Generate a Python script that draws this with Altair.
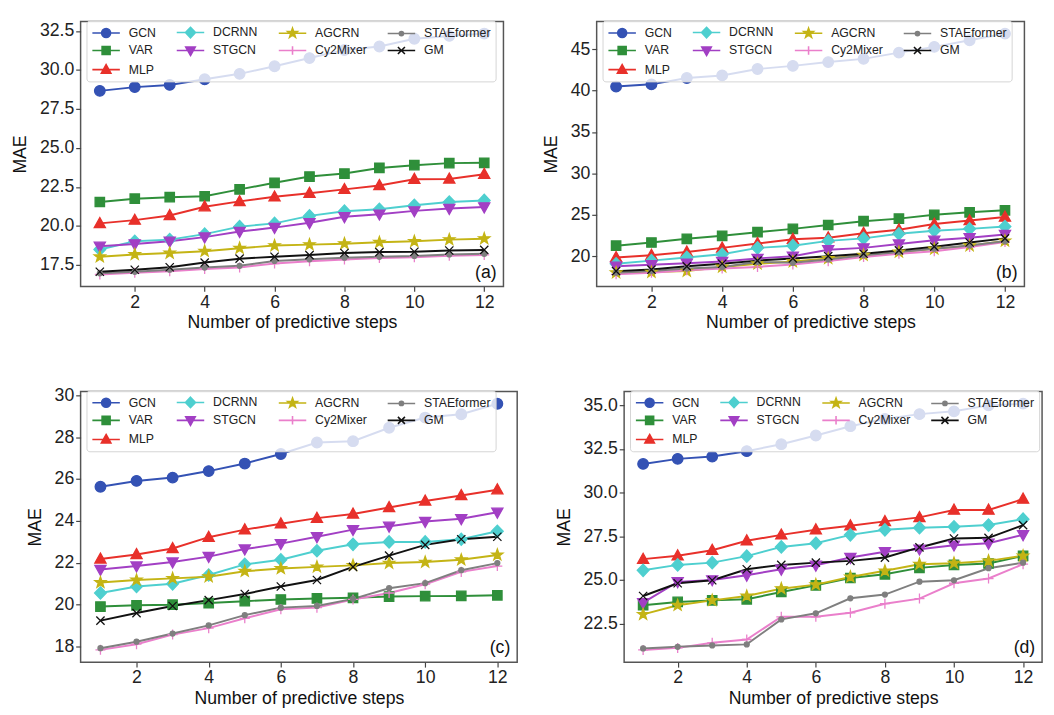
import altair as alt
import pandas as pd

steps = list(range(1, 13))
models = ["GCN", "VAR", "MLP", "DCRNN", "STGCN", "AGCRN", "Cy2Mixer", "STAEformer", "GM"]
# legend order, row-major over 4 columns
legend_order = ["GCN", "DCRNN", "AGCRN", "STAEformer", "VAR", "STGCN", "Cy2Mixer", "GM", "MLP"]

mae_a = {
    "GCN":        [28.66, 28.90, 29.04, 29.40, 29.75, 30.24, 30.76, 31.28, 31.50, 32.00, 32.18, 32.33],
    "VAR":        [21.54, 21.75, 21.85, 21.91, 22.35, 22.77, 23.17, 23.36, 23.72, 23.90, 24.03, 24.05],
    "MLP":        [20.17, 20.38, 20.68, 21.24, 21.58, 21.87, 22.10, 22.35, 22.60, 23.00, 23.02, 23.32],
    "DCRNN":      [18.50, 19.02, 19.13, 19.48, 19.96, 20.17, 20.65, 20.95, 21.07, 21.33, 21.54, 21.64],
    "STGCN":      [18.70, 18.85, 19.02, 19.29, 19.65, 19.90, 20.21, 20.59, 20.76, 20.97, 21.12, 21.22],
    "AGCRN":      [18.03, 18.18, 18.27, 18.39, 18.58, 18.75, 18.81, 18.87, 18.96, 19.02, 19.13, 19.19],
    "Cy2Mixer":   [16.90, 17.00, 17.10, 17.25, 17.35, 17.60, 17.75, 17.85, 17.95, 18.00, 18.10, 18.15],
    "STAEformer": [16.97, 17.07, 17.20, 17.34, 17.45, 17.76, 17.87, 17.97, 18.03, 18.08, 18.18, 18.22],
    "GM":         [17.07, 17.20, 17.36, 17.66, 17.91, 18.03, 18.14, 18.27, 18.33, 18.35, 18.43, 18.47],
}
mae_b = {
    "GCN":        [40.50, 40.77, 41.54, 41.85, 42.62, 43.00, 43.46, 43.85, 44.60, 45.30, 46.10, 46.90],
    "VAR":        [21.27, 21.65, 22.10, 22.46, 22.90, 23.30, 23.77, 24.23, 24.54, 25.00, 25.30, 25.54],
    "MLP":        [19.85, 20.12, 20.50, 21.00, 21.54, 22.04, 22.23, 22.77, 23.20, 23.88, 24.30, 24.73],
    "DCRNN":      [19.08, 19.46, 19.85, 20.23, 21.00, 21.27, 21.85, 22.15, 22.70, 23.08, 23.30, 23.58],
    "STGCN":      [18.77, 18.96, 19.15, 19.35, 19.73, 20.00, 20.77, 21.00, 21.46, 21.92, 22.23, 22.62],
    "AGCRN":      [18.00, 18.08, 18.19, 18.70, 19.08, 19.35, 19.73, 20.12, 20.50, 20.88, 21.27, 21.85],
    "Cy2Mixer":   [17.80, 18.00, 18.30, 18.50, 18.70, 19.00, 19.40, 19.90, 20.30, 20.60, 21.10, 21.70],
    "STAEformer": [18.00, 18.20, 18.50, 18.70, 19.30, 19.20, 19.60, 20.10, 20.50, 20.90, 21.30, 21.80],
    "GM":         [18.19, 18.38, 18.77, 19.08, 19.46, 19.73, 20.00, 20.30, 20.70, 21.15, 21.65, 22.15],
}
mae_c = {
    "GCN":        [25.63, 25.91, 26.07, 26.38, 26.74, 27.20, 27.75, 27.81, 28.45, 28.94, 29.10, 29.60],
    "VAR":        [19.90, 19.96, 19.99, 20.07, 20.16, 20.24, 20.29, 20.32, 20.38, 20.40, 20.41, 20.44],
    "MLP":        [22.18, 22.39, 22.68, 23.22, 23.58, 23.86, 24.13, 24.33, 24.64, 24.95, 25.21, 25.49],
    "DCRNN":      [20.55, 20.86, 20.99, 21.41, 21.92, 22.14, 22.57, 22.88, 22.99, 22.99, 23.12, 23.50],
    "STGCN":      [21.67, 21.84, 22.03, 22.29, 22.65, 22.91, 23.24, 23.58, 23.74, 23.97, 24.10, 24.41],
    "AGCRN":      [21.05, 21.17, 21.25, 21.33, 21.59, 21.72, 21.80, 21.87, 21.98, 22.03, 22.14, 22.37],
    "Cy2Mixer":   [17.83, 18.10, 18.56, 18.87, 19.34, 19.77, 19.85, 20.24, 20.55, 20.97, 21.56, 21.84],
    "STAEformer": [17.91, 18.22, 18.61, 19.00, 19.49, 19.85, 19.93, 20.27, 20.78, 21.02, 21.64, 21.98],
    "GM":         [19.23, 19.59, 19.93, 20.21, 20.50, 20.86, 21.17, 21.80, 22.34, 22.85, 23.12, 23.24],
}
mae_d = {
    "GCN":        [31.65, 31.94, 32.07, 32.38, 32.78, 33.28, 33.81, 34.23, 34.50, 34.66, 35.00, 35.10],
    "VAR":        [23.56, 23.75, 23.84, 23.90, 24.32, 24.70, 25.12, 25.33, 25.70, 25.87, 25.95, 26.39],
    "MLP":        [26.20, 26.39, 26.71, 27.25, 27.59, 27.88, 28.11, 28.36, 28.59, 29.01, 29.01, 29.64],
    "DCRNN":      [25.56, 25.87, 26.00, 26.37, 26.90, 27.11, 27.59, 27.88, 28.00, 28.05, 28.15, 28.49],
    "STGCN":      [23.71, 24.90, 25.01, 25.28, 25.62, 25.85, 26.29, 26.62, 26.77, 27.00, 27.11, 27.59],
    "AGCRN":      [23.04, 23.56, 23.84, 24.09, 24.51, 24.74, 25.18, 25.53, 25.91, 25.97, 26.10, 26.39],
    "Cy2Mixer":   [21.00, 21.12, 21.41, 21.60, 22.90, 22.90, 23.13, 23.65, 23.94, 24.82, 25.09, 25.91],
    "STAEformer": [21.09, 21.18, 21.26, 21.32, 22.75, 23.10, 23.96, 24.17, 24.91, 24.99, 25.68, 26.00],
    "GM":         [24.09, 24.82, 24.99, 25.62, 25.87, 26.00, 26.10, 26.29, 26.87, 27.38, 27.42, 28.15],
}

x_ticks = [2, 4, 6, 8, 10, 12]
y_ticks_a = [17.5, 20.0, 22.5, 25.0, 27.5, 30.0, 32.5]
y_ticks_b = [20, 25, 30, 35, 40, 45]
y_ticks_c = [18, 20, 22, 24, 26, 28, 30]
y_ticks_d = [22.5, 25.0, 27.5, 30.0, 32.5, 35.0]

# ---------------- styles ----------------
FONT = "Liberation Sans"
colors = {
    "GCN": "#3452b4", "VAR": "#2f8f3a", "MLP": "#e8302a", "DCRNN": "#4ecfcf",
    "STGCN": "#a23fc4", "AGCRN": "#c4b415", "Cy2Mixer": "#ea7fcb",
    "STAEformer": "#7f7f7f", "GM": "#111111",
}


def f(v):
    return f"{v:.3f}"


def circ(r, dx=0.0):
    return (f"M{f(dx + r)},0A{f(r)},{f(r)} 0 1,1 {f(dx - r)},0"
            f"A{f(r)},{f(r)} 0 1,1 {f(dx + r)},0Z")


def poly(pts, s, dx=0.0):
    return "M" + "L".join(f"{f(dx + x * s)},{f(y * s)}" for x, y in pts) + "Z"


def segs(lines, s, dx=0.0):
    return "".join(f"M{f(dx + a * s)},{f(b * s)}L{f(dx + c * s)},{f(d * s)}" for a, b, c, d in lines)


star_pts = [(0, -1), (0.235, -0.324), (0.951, -0.309), (0.38, 0.124), (0.588, 0.809),
            (0, 0.4), (-0.588, 0.809), (-0.38, 0.124), (-0.951, -0.309), (-0.235, -0.324)]

markers = {
    "GCN": lambda s, dx=0.0: circ(0.9 * s, dx),
    "VAR": lambda s, dx=0.0: poly([(-0.8, -0.8), (0.8, -0.8), (0.8, 0.8), (-0.8, 0.8)], s, dx),
    "MLP": lambda s, dx=0.0: poly([(0, -1.0), (0.95, 0.7), (-0.95, 0.7)], s, dx),
    "DCRNN": lambda s, dx=0.0: poly([(0, -1.05), (1.0, 0), (0, 1.05), (-1.0, 0)], s, dx),
    "STGCN": lambda s, dx=0.0: poly([(0, 1.0), (0.95, -0.7), (-0.95, -0.7)], s, dx),
    "AGCRN": lambda s, dx=0.0: poly(star_pts, s, dx),
    "Cy2Mixer": lambda s, dx=0.0: segs([(-0.85, 0, 0.85, 0), (0, -0.85, 0, 0.85)], s, dx),
    "STAEformer": lambda s, dx=0.0: circ(0.42 * s, dx),
    "GM": lambda s, dx=0.0: segs([(-0.7, -0.7, 0.7, 0.7), (-0.7, 0.7, 0.7, -0.7)], s, dx),
}

color_range = [colors[m] for m in legend_order]
plot_shapes = [markers[m](1.0) for m in legend_order]
# legend symbols: symbol unit = 6 px (size 144); line spans 28 px with the marker in its middle
legend_shapes = ["M-1,0L3.667,0" + markers[m](0.85, 1.333) for m in legend_order]


def make_df(d):
    rows = []
    for m in models:
        for s, v in zip(steps, d[m]):
            rows.append({"step": s, "model": m, "mae": v})
    return pd.DataFrame(rows)


def panel(d, label, ydom, yticks, yfmt, w, h):
    df = make_df(d)
    x = alt.X("step:Q", scale=alt.Scale(domain=[0.45, 12.55], nice=False, zero=False),
              axis=alt.Axis(values=x_ticks, title="Number of predictive steps", format="d"))
    y = alt.Y("mae:Q", scale=alt.Scale(domain=ydom, nice=False, zero=False),
              axis=alt.Axis(values=yticks, title="MAE", format=yfmt))
    base = alt.Chart(df)
    stroke_scale = alt.Scale(domain=legend_order, range=color_range)

    lines = base.mark_line(strokeWidth=2).encode(
        x=x, y=y,
        stroke=alt.Stroke("model:N", scale=stroke_scale, legend=None),
        order=alt.Order("step:Q"),
    )
    pts = base.mark_point(filled=True, size=144, strokeWidth=1.3, opacity=1).encode(
        x=x, y=y,
        fill=alt.Fill("model:N", scale=alt.Scale(domain=legend_order, range=color_range), legend=None),
        stroke=alt.Stroke("model:N", scale=stroke_scale, legend=None),
        shape=alt.Shape("model:N", scale=alt.Scale(domain=legend_order, range=plot_shapes), legend=None),
    )
    leg = alt.Legend(
        title=None, orient="none", legendX=6, legendY=-1, columns=4, direction="horizontal",
        symbolSize=144, symbolStrokeWidth=1.6, labelFont=FONT, labelFontSize=12.5,
        labelColor="#222222", labelOffset=24, columnPadding=17, rowPadding=1.5,
        padding=5, fillColor="rgba(255,255,255,0.8)", strokeColor="#d4d4d4",
        cornerRadius=3, symbolLimit=0, labelLimit=200,
    )
    legend_layer = base.transform_filter("datum.step < 0").mark_point(
        filled=True, size=144, strokeWidth=1.6, opacity=1
    ).encode(
        x=x, y=y,
        fill=alt.Fill("model:N", scale=alt.Scale(domain=legend_order, range=color_range), legend=leg),
        stroke=alt.Stroke("model:N", scale=alt.Scale(domain=legend_order, range=color_range), legend=leg),
        shape=alt.Shape("model:N", scale=alt.Scale(domain=legend_order, range=legend_shapes), legend=leg),
    )
    txt = alt.Chart(pd.DataFrame({"t": [label]})).mark_text(
        font=FONT, fontSize=18, align="right", baseline="bottom", color="#111111"
    ).encode(text="t:N", x=alt.value(w - 7), y=alt.value(h - 5))

    return alt.layer(lines, pts, legend_layer, txt).resolve_scale(
        fill="independent", stroke="independent", shape="independent"
    ).properties(width=w, height=h)


pa = panel(mae_a, "(a)", [16.13, 33.1], y_ticks_a, ".1f", 431, 270)
pb = panel(mae_b, "(b)", [16.34, 48.36], y_ticks_b, "d", 436, 270)
pc = panel(mae_c, "(c)", [17.24, 30.19], y_ticks_c, "d", 445, 276)
pd_ = panel(mae_d, "(d)", [20.3, 35.8], y_ticks_d, ".1f", 426, 276)

row1 = alt.hconcat(pa, pb, spacing=38)
row2 = alt.hconcat(pc, pd_, spacing=37)

chart = alt.vconcat(row1, row2, spacing=54).properties(
    padding={"left": 3, "top": 4, "right": 3, "bottom": 0}
).configure_view(
    stroke="#555555", strokeWidth=1.5
).configure_axis(
    labelFont=FONT, labelFontSize=18, labelColor="#222222", labelPadding=2,
    titleFont=FONT, titleFontSize=18, titleFontWeight="normal", titleColor="#111111",
    tickColor="#444444", tickSize=5, tickWidth=1.2, domain=False, grid=False,
).configure_axisY(
    titlePadding=10
).configure_axisX(
    titlePadding=3
)

chart.save("out.html", embed_options={"renderer": "svg", "actions": False})
